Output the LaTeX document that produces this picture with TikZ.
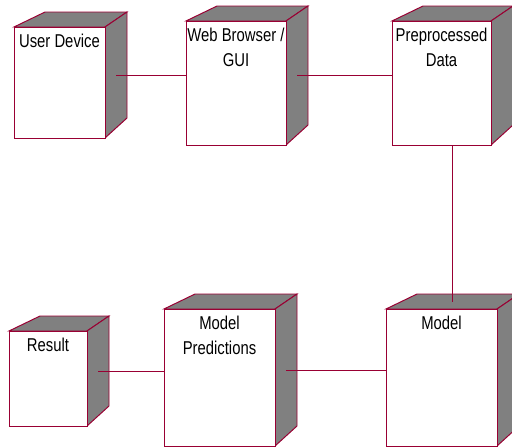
\documentclass[tikz,border=0pt]{standalone}
\usepackage{fontspec}
\setmainfont[FakeStretch=0.8]{Liberation Sans}
\usetikzlibrary{fit,calc}
\definecolor{edgered}{RGB}{153,0,51}
\definecolor{sidegray}{RGB}{128,128,128}
\tikzset{
  face/.style={draw=edgered, fill=white, inner sep=0pt, line width=0.7pt},
  side/.style={draw=edgered, fill=sidegray, line width=0.7pt},
  link/.style={draw=edgered, line width=0.7pt},
  caption/.style={align=center, inner sep=0pt, font=\fontsize{13.2}{17.8}\selectfont}
}
\begin{document}
\begin{tikzpicture}[x=0.025cm, y=-0.025cm]
        \useasboundingbox (0,0) rectangle (512,447);

        % Disegna i nodi: tetto, fianco e faccia frontale
        \foreach \n/\xa/\ya/\xb/\yb/\txt in {ud/14/27/105/138/{User Device},
            wb/186/21/286/145/{Web Browser /\\GUI},
            pp/392/21/491/145/{Preprocessed\\Data},
            rs/9/331/87/426/{Result},
            mp/164/309/275/446/{Model\\Predictions},
            md/386/309/497/446/{Model}}{
            \filldraw[side] (\xa,\ya) -- (\xa+31,\ya-15) -- (\xb+22,\ya-15) -- (\xb,\ya) -- cycle; % Tetto
            \filldraw[side] (\xb,\ya) -- (\xb+22,\ya-15) -- (\xb+22,\yb-20) -- (\xb,\yb) -- cycle; % Fianco
            \node[face, fit={(\xa,\ya) (\xb,\yb)}] (\n) {};
            \node[caption, anchor=north] (\n-txt) at ($(\n.north)+(0,7)$) {\txt};
            \coordinate (\n-side) at (\xb+11, {(\ya-15+\yb)/2});
            \coordinate (\n-mid) at ({(\xa+\xb+22)/2}, {(\ya-15+\yb)/2});
            \coordinate (\n-top) at ({(\xa+\xb+22)/2}, \ya-7.5);
        }

        % Collegamenti
        \draw[link] (ud-side) -- (ud-side -| wb.west);
        \draw[link] (wb-side) -- (wb-side -| pp.west);
        \draw[link] (pp-mid |- pp.south) -- (pp-mid |- md-top);
        \draw[link] (rs-side) -- (rs-side -| mp.west);
        \draw[link] (mp-side) -- (mp-side -| md.west);

    \end{tikzpicture}
\end{document}
